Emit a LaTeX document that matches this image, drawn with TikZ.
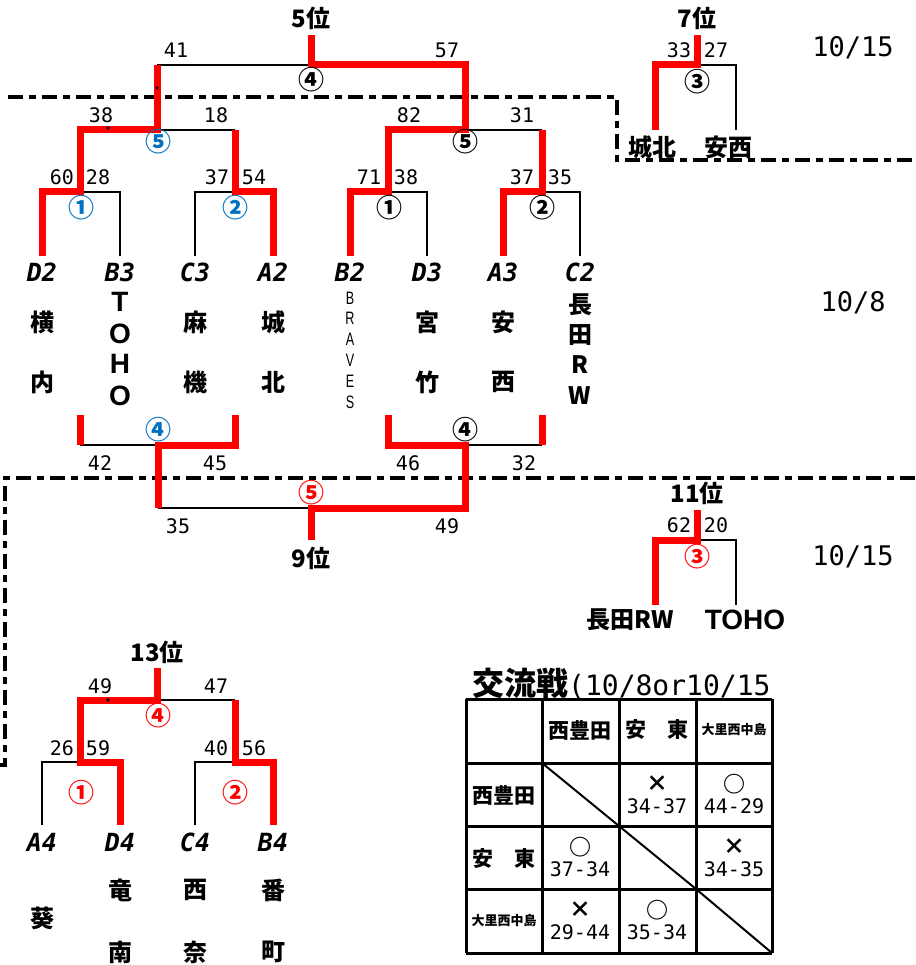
\documentclass[tikz,border=0pt]{standalone}
\usepackage{fontspec}
\setmainfont{Noto Sans CJK JP}
\newfontfamily\monofont{DejaVu Sans Mono}
\newfontfamily\latinfont{Liberation Sans}
\newfontfamily\narrowfont{Liberation Sans}[FakeStretch=0.7]
\definecolor{mblue}{HTML}{0070C0}
\definecolor{mred}{HTML}{FF0000}
\tikzset{
  win/.style={draw=mred, line width=7pt},
  lose/.style={draw=black, line width=2.5pt},
  sepline/.style={line width=4.5pt, dash pattern=on 15pt off 6pt on 7pt off 6pt},
  score/.style={font=\monofont\fontsize{20}{20}\selectfont, inner sep=0pt},
  code/.style={font=\monofont\bfseries\itshape\fontsize{25}{25}\selectfont, inner sep=0pt},
  tname/.style={font=\bfseries\fontsize{24}{24}\selectfont, inner sep=0pt},
  tletter/.style={font=\latinfont\bfseries\fontsize{28}{28}\selectfont, inner sep=0pt},
  brave/.style={font=\narrowfont\fontsize{18}{18}\selectfont, inner sep=0pt},
  rank/.style={font=\bfseries\fontsize{24}{24}\selectfont, inner sep=0pt},
  mno/.style={font=\bfseries\fontsize{26}{26}\selectfont, inner sep=0pt},
  day/.style={font=\monofont\fontsize{27}{27}\selectfont, inner sep=0pt},
  grid/.style={line width=3pt},
  cellname/.style={font=\bfseries\fontsize{21}{21}\selectfont, inner sep=0pt},
  cellsmall/.style={font=\bfseries\fontsize{13}{13}\selectfont, inner sep=0pt},
  wlmark/.style={font=\bfseries\fontsize{22}{22}\selectfont, inner sep=0pt},
}
\begin{document}
\begin{tikzpicture}[x=1pt,y=-1pt]
\useasboundingbox (0,0) rectangle (915,965);

% dashed separators
\draw[sepline] (8,97) -- (617,97) -- (617,160) -- (915,160);
\draw[sepline] (915,478) -- (5,478) -- (5,765) -- (-10,765);

% upper bracket
\foreach \n/\x in {1/42,2/120,3/195,4/273,5/350,6/427,7/503,8/580}
  \coordinate (u\n) at (\x,256);
\coordinate (m1) at (80,192);
\coordinate (m2) at (235,192);
\coordinate (m3) at (388,192);
\coordinate (m4) at (542,192);
\coordinate (s1) at (157,130);
\coordinate (s2) at (465,130);
\coordinate (f) at (311,65);
\coordinate (ftop) at (311,35);

\draw[lose] (u2) |- (m1);
\draw[lose] (u3) |- (m2);
\draw[lose] (u6) |- (m3);
\draw[lose] (u8) |- (m4);
\draw[lose] (s1) -- (m2 |- s1);
\draw[lose] (s2) -- (m4 |- s2);
\draw[lose] (s1 |- f) -- (f);
\draw[win] (u1) |- (m1) |- (s1) -- (s1 |- f);
\draw[win] (u4) |- (m2) -- (m2 |- s1);
\draw[win] (u5) |- (m3) |- (s2) |- (f) -- (ftop);
\draw[win] (u7) |- (m4) -- (m4 |- s2);

\fill (157,88) circle (1.8pt);
\fill (108,128) circle (1.8pt);

\node[rank] (r5) at (311,18) {5位};
\node[score] (sc41) at (176,50) {41};
\node[score] (sc57) at (447,50) {57};
\node[mno] (q4top) at (311,80) {④};
\node[score] (sc38a) at (101,115) {38};
\node[score] (sc18) at (216,115) {18};
\node[score] (sc82) at (409,115) {82};
\node[score] (sc31) at (522,115) {31};
\node[mno, mblue] (q5l) at (158,142) {⑤};
\node[mno] (q5r) at (465,142) {⑤};
\foreach \x/\s in {62/60,98/28,217/37,254/54,369/71,406/38,522/37,560/35}
  \node[score] (sc\x) at (\x,177) {\s};
\node[mno, mblue] (q1l) at (81,208) {①};
\node[mno, mblue] (q2l) at (235,208) {②};
\node[mno] (q1r) at (389,208) {①};
\node[mno] (q2r) at (542,208) {②};

% teams
\foreach \x/\c in {42/D2,120/B3,195/C3,273/A2,350/B2,427/D3,503/A3,580/C2}
  \node[code] (c\c) at (\x,272) {\c};
\foreach \x/\a/\b in {42/横/内,195/麻/機,273/城/北,427/宮/竹,503/安/西} {
  \node[tname] (na\x) at (\x,322) {\a};
  \node[tname] (nb\x) at (\x,382) {\b};
}
\foreach \y/\l in {302/T,334/O,364/H,396/O}
  \node[tletter] (toho\y) at (120,\y) {\l};
\foreach \i/\l in {0/B,1/R,2/A,3/V,4/E,5/S}
  \node[brave] (br\i) at (350,{298+20.8*\i}) {\l};
\foreach \y/\l in {305/長,335/田,365/R,396/W}
  \node[tname] (nag\y) at (580,\y) {\l};

% lower bracket (9位)
\coordinate (a1) at (80,415);
\coordinate (a2) at (235,415);
\coordinate (a3) at (388,415);
\coordinate (a4) at (542,415);
\coordinate (n1) at (158,445);
\coordinate (n2) at (465,445);
\coordinate (g) at (311,508);
\coordinate (gbot) at (311,540);

\draw[lose] (a1 |- n1) -- (n1);
\draw[lose] (n2) -- (a4 |- n2);
\draw[lose] (n1 |- g) -- (g);
\draw[win] (a1) -- (a1 |- n1);
\draw[win] (a2) |- (n1) -- (n1 |- g);
\draw[win] (a4) -- (a4 |- n2);
\draw[win] (a3) |- (n2) |- (g) -- (gbot);

\node[mno, mblue] (q4l) at (158,430) {④};
\node[mno] (q4r) at (465,430) {④};
\foreach \x/\s in {100/42,215/45,408/46,524/32}
  \node[score] (sd\x) at (\x,463) {\s};
\node[mno, mred] (q5m) at (311,493) {⑤};
\node[score] (sc35) at (178,526) {35};
\node[score] (sc49) at (447,526) {49};
\node[rank] (r9) at (311,558) {9位};

% 7位
\coordinate (t1) at (655,130);
\coordinate (t2) at (736,130);
\coordinate (tm) at (697,65);
\coordinate (tt) at (697,35);
\draw[lose] (t2) |- (tm);
\draw[win] (t1) |- (tm) -- (tt);
\node[rank] (r7) at (697,18) {7位};
\node[score] (sc33) at (679,50) {33};
\node[score] (sc27) at (716,50) {27};
\node[mno] (q3t) at (697,82) {③};
\node[tname] (jyo) at (652,147) {城北};
\node[tname] (anz) at (728,147) {安西};

% 11位
\coordinate (e1) at (655,605);
\coordinate (e2) at (736,605);
\coordinate (em) at (697,540);
\coordinate (et) at (697,510);
\draw[lose] (e2) |- (em);
\draw[win] (e1) |- (em) -- (et);
\node[rank] (r11) at (697,493) {11位};
\node[score] (sc62) at (679,525) {62};
\node[score] (sc20) at (716,525) {20};
\node[mno, mred] (q3b) at (697,557) {③};
\node[tname] (ngt) at (630,620) {長田RW};
\node[font=\latinfont\bfseries\fontsize{28}{28}\selectfont, inner sep=0pt] (toho) at (745,620) {TOHO};

% dates
\node[day] (d1) at (853,48) {10/15};
\node[day] (d2) at (853,303) {10/8};
\node[day] (d3) at (853,557) {10/15};

% 13位
\foreach \n/\x in {1/42,2/120,3/195,4/273}
  \coordinate (b\n) at (\x,825);
\coordinate (k1) at (80,762);
\coordinate (k2) at (235,762);
\coordinate (h) at (157,700);
\coordinate (htop) at (157,668);
\draw[lose] (b1) |- (k1);
\draw[lose] (b3) |- (k2);
\draw[lose] (h) -- (k2 |- h);
\draw[win] (b2) |- (k1) |- (h) -- (htop);
\draw[win] (b4) |- (k2) -- (k2 |- h);
\fill (108,700) circle (1.8pt);

\node[rank] (r13) at (157,652) {13位};
\node[score] (se49) at (100,686) {49};
\node[score] (se47) at (216,686) {47};
\node[mno, mred] (q4b) at (158,716) {④};
\foreach \x/\s in {62/26,98/59,216/40,254/56}
  \node[score] (se\x) at (\x,748) {\s};
\node[mno, mred] (q1b) at (81,793) {①};
\node[mno, mred] (q2b) at (235,793) {②};
\foreach \x/\c in {42/A4,120/D4,195/C4,273/B4}
  \node[code] (c\c) at (\x,842) {\c};
\node[tname] (aoi) at (42,918) {葵};
\foreach \x/\a/\b in {120/竜/南,195/西/奈,273/番/町} {
  \node[tname] (la\x) at (\x,890) {\a};
  \node[tname] (lb\x) at (\x,952) {\b};
}

% 交流戦 table
\begin{scope}
  \clip (460,655) rectangle (772,699);
  \node[anchor=base west, inner sep=0pt] (title) at (472,695)
    {{\bfseries\fontsize{32}{32}\selectfont 交流戦}{\monofont\fontsize{28}{28}\selectfont(10/8or10/15)}};
\end{scope}
\foreach \x in {466,542,619,696,772}
  \draw[grid] (\x,699) -- (\x,953);
\foreach \y in {699,763,826,889,953}
  \draw[grid] (466,\y) -- (772,\y);
\draw[line width=2pt] (542,763) -- (619,826);
\draw[line width=2pt] (619,826) -- (696,889);
\draw[line width=2pt] (696,889) -- (772,953);

\node[cellname] (h1) at (580,730) {西豊田};
\node[cellname] (h2) at (657,730) {安\hspace{1em}東};
\node[cellsmall] (h3) at (734,730) {大里西中島};
\node[cellname] (v1) at (504,795) {西豊田};
\node[cellname] (v2) at (504,858) {安\hspace{1em}東};
\node[cellsmall] (v3) at (504,921) {大里西中島};
\foreach \x/\y/\m/\s in {657/795/×/34-37, 734/795/○/44-29, 580/858/○/37-34,
                        734/858/×/34-35, 580/921/×/29-44, 657/921/○/35-34} {
  \node[wlmark] (mk\x\y) at (\x,\y-11) {\m};
  \node[score] (rs\x\y) at (\x,\y+11) {\s};
}
\end{tikzpicture}
\end{document}
